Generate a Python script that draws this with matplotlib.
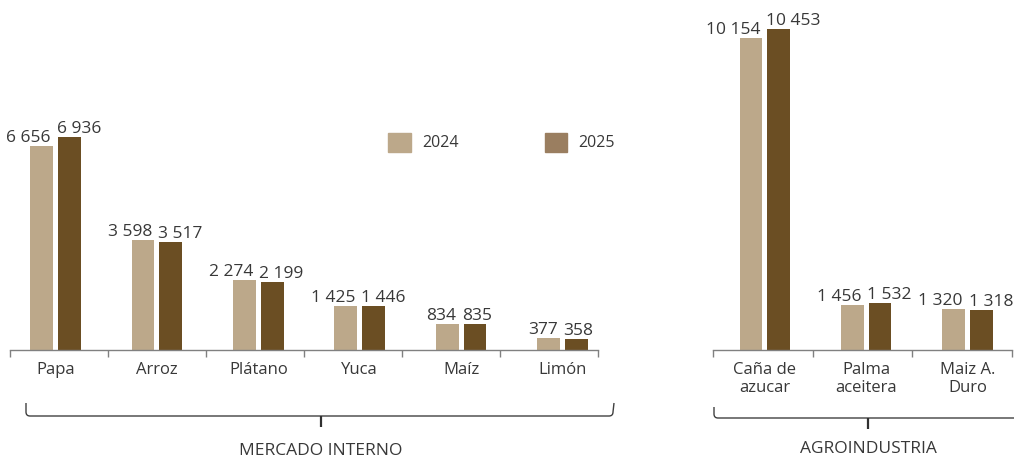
import matplotlib.pyplot as plt
import numpy as np
from matplotlib.patches import Patch
from matplotlib.path import Path
from matplotlib.patches import PathPatch

plt.rcParams['font.family'] = ['Open Sans', 'DejaVu Sans']

# Production by crop, two years
mercado_cats = ['Papa', 'Arroz', 'Plátano', 'Yuca', 'Maíz', 'Limón']
mercado_2024 = [6656, 3598, 2274, 1425, 834, 377]
mercado_2025 = [6936, 3517, 2199, 1446, 835, 358]

agro_cats = ['Caña de\nazucar', 'Palma\naceitera', 'Maiz A.\nDuro']
agro_2024 = [10154, 1456, 1320]
agro_2025 = [10453, 1532, 1318]

years = ['2024', '2025']
group_names = ['MERCADO INTERNO', 'AGROINDUSTRIA']

c24 = '#bca88a'
c25 = '#6b4e23'
c25_leg = '#9a7e60'
txt = '#383838'

W, H = 1014, 459
fig = plt.figure(figsize=(W / 100, H / 100), dpi=100)


def fmt(v):
    return f'{v:,}'.replace(',', ' ')


def draw_group(ax, cats, v24, v25, xlim, nedges):
    x = np.arange(len(cats))
    bw, gap = 0.225, 0.05
    b1 = ax.bar(x - gap / 2 - bw / 2, v24, bw, color=c24)
    b2 = ax.bar(x + gap / 2 + bw / 2, v25, bw, color=c25)
    for r, v in zip(b1, v24):
        ax.annotate(fmt(v), (r.get_x() + r.get_width(), v), xytext=(-1.5, 0),
                    textcoords='offset points', ha='right', va='bottom',
                    fontsize=12.5, color=txt, annotation_clip=False)
    for r, v in zip(b2, v25):
        ax.annotate(fmt(v), (r.get_x(), v), xytext=(-1, 0),
                    textcoords='offset points', ha='left', va='bottom',
                    fontsize=12.5, color=txt, annotation_clip=False)
    ax.set_xlim(*xlim)
    ax.set_ylim(0, 11400)
    ax.set_xticks(x)
    ax.set_xticklabels(cats, fontsize=12, color=txt, linespacing=1.1)
    ax.set_xticks(np.linspace(xlim[0], xlim[1], nedges), minor=True)
    ax.tick_params(axis='x', which='major', length=0, pad=9)
    ax.tick_params(axis='x', which='minor', length=5, width=1, color='#808080')
    ax.set_yticks([])
    for s in ['top', 'left', 'right']:
        ax.spines[s].set_visible(False)
    ax.spines['bottom'].set_color('#808080')
    ax.spines['bottom'].set_linewidth(1)
    ax.patch.set_alpha(0)


bottom = 1 - 350 / H
ax1 = fig.add_axes([10 / W, bottom, 588 / W, 350 / H])
draw_group(ax1, mercado_cats, mercado_2024, mercado_2025, (-0.449, 5.35), 7)

ax2 = fig.add_axes([713 / W, bottom, 299 / W, 350 / H])
draw_group(ax2, agro_cats, agro_2024, agro_2025, (-0.512, 2.44), 4)

handles = [Patch(color=c24), Patch(color=c25_leg)]
ax1.legend(handles, years, loc='upper left', bbox_to_anchor=(364 / 588, 0.662),
           ncol=2, frameon=False, fontsize=11.5, labelcolor=txt,
           handlelength=1.4, handleheight=1.45, handletextpad=0.7,
           columnspacing=5.4)

# Brackets grouping the categories, drawn in pixel space
over = fig.add_axes([0, 0, 1, 1])
over.set_xlim(0, W)
over.set_ylim(H, 0)
over.axis('off')
over.patch.set_alpha(0)


def bracket(x0, x1, xm, ytop, yh, label, ylab):
    r = 4
    verts = [(x0, ytop), (x0, yh - r), (x0, yh), (x0 + r, yh),
             (x1 - r, yh), (x1, yh), (x1, yh - r), (x1 + 1, ytop)]
    codes = [Path.MOVETO, Path.LINETO, Path.CURVE3, Path.CURVE3,
             Path.LINETO, Path.CURVE3, Path.CURVE3, Path.LINETO]
    over.add_patch(PathPatch(Path(verts, codes), fill=False,
                             edgecolor='#404040', lw=1))
    over.plot([xm, xm], [yh, yh + 11], color='#303030', lw=1.6,
              solid_capstyle='butt')
    over.text(xm, ylab, label, ha='center', va='center', fontsize=12.5,
              color=txt)


bracket(26, 613, 321, 403, 416, group_names[0], 451)
bracket(714, 1030, 868, 407, 418, group_names[1], 449)

fig.savefig('out.png', dpi=100)
